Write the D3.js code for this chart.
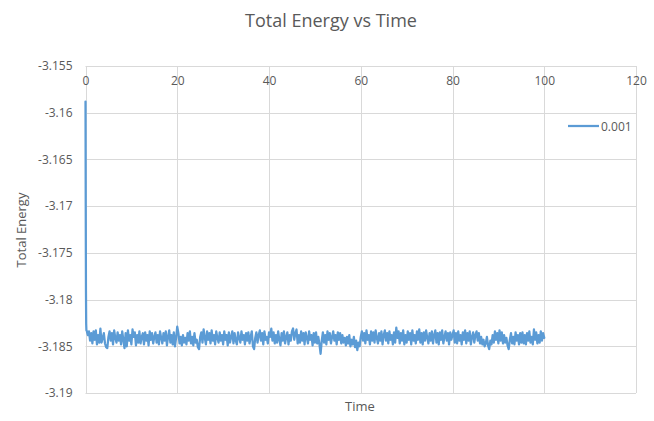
<!DOCTYPE html>
<html><head><meta charset="utf-8">
<script src="https://cdn.jsdelivr.net/npm/d3@7"></script>
<style>
html,body{margin:0;padding:0;background:#fff;}
svg{display:block;font-family:"Open Sans","Liberation Sans",Arial,sans-serif;}
</style></head>
<body>
<script>
const chartTitle = "Total Energy vs Time";
const xAxisTitle = "Time";
const yAxisTitle = "Total Energy";
const seriesName = "0.001";
const xTicks = [0, 20, 40, 60, 80, 100, 120];
const yTicks = [-3.155, -3.16, -3.165, -3.17, -3.175, -3.18, -3.185, -3.19];
const yTickLabels = ["-3.155", "-3.16", "-3.165", "-3.17", "-3.175", "-3.18", "-3.185", "-3.19"];

// initial relaxation
const startTime = [0, 0.05, 0.1, 0.15, 0.2];
const startEnergy = [-3.1588, -3.1700, -3.1790, -3.1826, -3.1833];

// steady state, sampled every 0.25 time units from t = 0.25 to 100
const sampleInterval = 0.25;
const steadyEnergy = [
-3.1833,-3.1838,-3.1834,-3.1844,-3.1836,-3.1847,-3.1834,-3.1843,-3.1833,-3.1848,-3.1838,-3.1846,-3.1831,-3.1846,-3.1841,-3.1836,-3.1847,-3.1851,-3.1852,-3.1840,
-3.1834,-3.1844,-3.1836,-3.1848,-3.1833,-3.1841,-3.1846,-3.1835,-3.1844,-3.1838,-3.1848,-3.1834,-3.1843,-3.1852,-3.1836,-3.1850,-3.1833,-3.1844,-3.1838,-3.1848,
-3.1832,-3.1840,-3.1835,-3.1849,-3.1838,-3.1846,-3.1834,-3.1847,-3.1840,-3.1836,-3.1848,-3.1835,-3.1844,-3.1838,-3.1849,-3.1834,-3.1843,-3.1836,-3.1847,-3.1840,
-3.1835,-3.1846,-3.1838,-3.1848,-3.1834,-3.1841,-3.1847,-3.1836,-3.1844,-3.1834,-3.1849,-3.1840,-3.1833,-3.1846,-3.1838,-3.1848,-3.1835,-3.1850,-3.1841,-3.1829,
-3.1836,-3.1847,-3.1840,-3.1849,-3.1838,-3.1846,-3.1841,-3.1848,-3.1836,-3.1844,-3.1834,-3.1847,-3.1840,-3.1849,-3.1836,-3.1846,-3.1843,-3.1851,-3.1853,-3.1840,
-3.1835,-3.1846,-3.1832,-3.1841,-3.1848,-3.1834,-3.1843,-3.1836,-3.1847,-3.1833,-3.1844,-3.1838,-3.1848,-3.1834,-3.1841,-3.1846,-3.1835,-3.1844,-3.1838,-3.1848,
-3.1834,-3.1843,-3.1838,-3.1849,-3.1835,-3.1846,-3.1840,-3.1834,-3.1847,-3.1836,-3.1844,-3.1848,-3.1835,-3.1841,-3.1846,-3.1834,-3.1843,-3.1838,-3.1848,-3.1836,
-3.1844,-3.1835,-3.1847,-3.1840,-3.1834,-3.1850,-3.1853,-3.1841,-3.1835,-3.1846,-3.1838,-3.1833,-3.1844,-3.1836,-3.1848,-3.1834,-3.1843,-3.1840,-3.1847,-3.1835,
-3.1840,-3.1831,-3.1844,-3.1835,-3.1847,-3.1838,-3.1846,-3.1834,-3.1843,-3.1849,-3.1836,-3.1844,-3.1834,-3.1847,-3.1840,-3.1835,-3.1848,-3.1838,-3.1844,-3.1834,
-3.1831,-3.1843,-3.1836,-3.1832,-3.1847,-3.1838,-3.1846,-3.1834,-3.1844,-3.1836,-3.1848,-3.1835,-3.1841,-3.1847,-3.1834,-3.1843,-3.1838,-3.1849,-3.1836,-3.1846,
-3.1835,-3.1847,-3.1840,-3.1848,-3.1858,-3.1844,-3.1835,-3.1846,-3.1838,-3.1848,-3.1834,-3.1843,-3.1836,-3.1847,-3.1840,-3.1834,-3.1844,-3.1838,-3.1848,-3.1835,
-3.1843,-3.1836,-3.1847,-3.1838,-3.1846,-3.1841,-3.1849,-3.1840,-3.1847,-3.1838,-3.1850,-3.1843,-3.1848,-3.1840,-3.1851,-3.1844,-3.1854,-3.1846,-3.1850,-3.1840,
-3.1834,-3.1844,-3.1836,-3.1847,-3.1833,-3.1843,-3.1838,-3.1848,-3.1834,-3.1844,-3.1835,-3.1846,-3.1833,-3.1841,-3.1847,-3.1836,-3.1844,-3.1834,-3.1848,-3.1838,
-3.1833,-3.1844,-3.1836,-3.1847,-3.1834,-3.1843,-3.1838,-3.1848,-3.1835,-3.1846,-3.1830,-3.1841,-3.1834,-3.1847,-3.1836,-3.1844,-3.1833,-3.1848,-3.1838,-3.1846,
-3.1834,-3.1843,-3.1836,-3.1848,-3.1833,-3.1844,-3.1838,-3.1847,-3.1834,-3.1843,-3.1832,-3.1846,-3.1836,-3.1848,-3.1835,-3.1844,-3.1833,-3.1841,-3.1847,-3.1836,
-3.1844,-3.1834,-3.1847,-3.1838,-3.1833,-3.1846,-3.1836,-3.1848,-3.1835,-3.1843,-3.1833,-3.1847,-3.1840,-3.1834,-3.1844,-3.1836,-3.1848,-3.1835,-3.1843,-3.1838,
-3.1833,-3.1846,-3.1836,-3.1847,-3.1834,-3.1844,-3.1838,-3.1848,-3.1835,-3.1843,-3.1833,-3.1847,-3.1836,-3.1844,-3.1834,-3.1848,-3.1840,-3.1835,-3.1846,-3.1838,
-3.1834,-3.1844,-3.1836,-3.1847,-3.1840,-3.1848,-3.1843,-3.1850,-3.1847,-3.1840,-3.1849,-3.1853,-3.1844,-3.1848,-3.1838,-3.1846,-3.1834,-3.1843,-3.1836,-3.1847,
-3.1833,-3.1844,-3.1835,-3.1847,-3.1838,-3.1846,-3.1841,-3.1849,-3.1853,-3.1843,-3.1836,-3.1847,-3.1840,-3.1848,-3.1835,-3.1844,-3.1838,-3.1848,-3.1836,-3.1846,
-3.1835,-3.1847,-3.1838,-3.1848,-3.1836,-3.1844,-3.1834,-3.1846,-3.1840,-3.1848,-3.1832,-3.1843,-3.1835,-3.1847,-3.1838,-3.1846,-3.1834,-3.1844,-3.1836,-3.1841
];

const W = 654, H = 421;
const margin = {left: 85.5, right: W - 636, top: 66, bottom: H - 393};
const textColor = "#595959", gridColor = "#d9d9d9", lineColor = "#5b9bd5";

const data = startTime.map((t, i) => ({t, e: startEnergy[i]}))
  .concat(steadyEnergy.map((e, i) => ({t: (i + 1) * sampleInterval, e})));

const svg = d3.select("body").append("svg").attr("width", W).attr("height", H);

const x = d3.scaleLinear().domain([0, 120]).range([margin.left, W - margin.right]);
const y = d3.scaleLinear().domain([-3.155, -3.19]).range([margin.top, H - margin.bottom]);

// gridlines
svg.append("g").selectAll("line.h").data(yTicks).join("line")
  .attr("x1", x(0)).attr("x2", x(120))
  .attr("y1", d => Math.round(y(d)) + 0.5).attr("y2", d => Math.round(y(d)) + 0.5)
  .attr("stroke", gridColor).attr("stroke-width", 1);
svg.append("g").selectAll("line.v").data(xTicks).join("line")
  .attr("y1", y(-3.155)).attr("y2", y(-3.19))
  .attr("x1", d => Math.round(x(d)) + 0.5).attr("x2", d => Math.round(x(d)) + 0.5)
  .attr("stroke", gridColor).attr("stroke-width", 1);

// y axis tick labels
const yAxis = d3.axisLeft(y).tickValues(yTicks).tickSize(0).tickPadding(0)
  .tickFormat((d, i) => yTickLabels[i]);
const gy = svg.append("g").attr("transform", `translate(${margin.left - 13},0)`).call(yAxis);
gy.select(".domain").remove();
gy.selectAll("text").attr("fill", textColor).style("font-size", "12px")
  .style("font-family", "'Open Sans','Liberation Sans',Arial,sans-serif");

// x axis tick labels (below the top edge, as Excel draws them)
const xAxis = d3.axisBottom(x).tickValues(xTicks).tickSize(0).tickPadding(0).tickFormat(d3.format("d"));
const gx = svg.append("g").attr("transform", `translate(0,${margin.top + 10})`).call(xAxis);
gx.select(".domain").remove();
gx.selectAll("text").attr("fill", textColor).style("font-size", "12px")
  .style("font-family", "'Open Sans','Liberation Sans',Arial,sans-serif");

// series line
const line = d3.line().x(d => x(d.t)).y(d => y(d.e));
svg.append("path").datum(data).attr("d", line)
  .attr("fill", "none").attr("stroke", lineColor).attr("stroke-width", 2.25)
  .attr("stroke-linejoin", "round").attr("stroke-linecap", "round");

// title
svg.append("text").attr("x", 331).attr("y", 27).attr("text-anchor", "middle")
  .attr("fill", textColor).style("font-size", "18px").text(chartTitle);

// axis titles
svg.append("text").attr("x", 360).attr("y", 411).attr("text-anchor", "middle")
  .attr("fill", textColor).style("font-size", "13px").text(xAxisTitle);
svg.append("text").attr("transform", "translate(26,230) rotate(-90)").attr("text-anchor", "middle")
  .attr("fill", textColor).style("font-size", "13px").text(yAxisTitle);

// legend
const lg = svg.append("g");
lg.append("line").attr("x1", 568).attr("x2", 599).attr("y1", 126).attr("y2", 126)
  .attr("stroke", lineColor).attr("stroke-width", 2.25);
lg.append("text").attr("x", 601).attr("y", 130.5).attr("fill", textColor)
  .style("font-size", "12px").text(seriesName);
</script>
</body></html>
